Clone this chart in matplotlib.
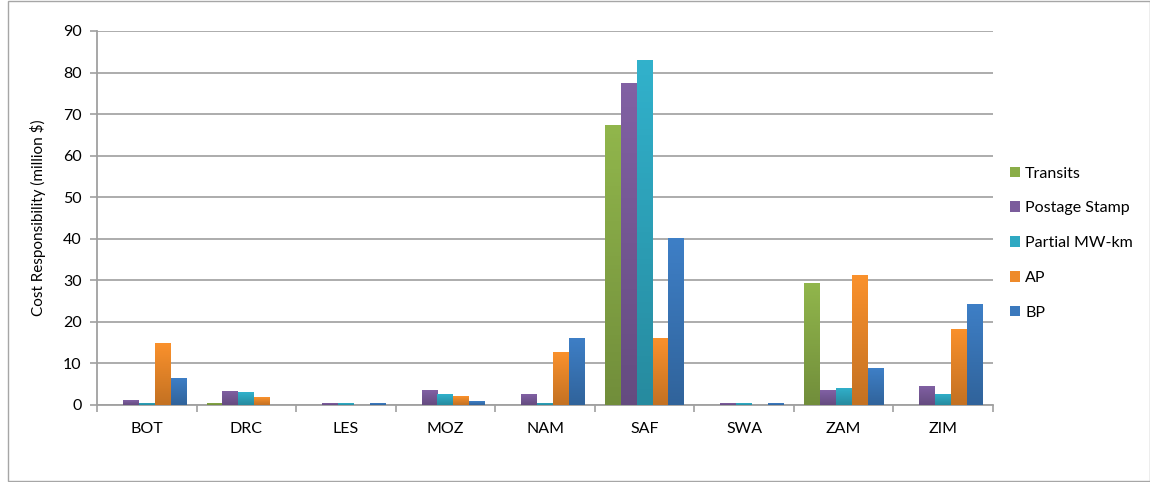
import matplotlib
matplotlib.use("Agg")
import matplotlib.pyplot as plt
from matplotlib.patches import Rectangle
from matplotlib.colors import to_rgb, LinearSegmentedColormap
import numpy as np

plt.rcParams['font.family'] = ['Lato', 'DejaVu Sans']

countries = ["BOT", "DRC", "LES", "MOZ", "NAM", "SAF", "SWA", "ZAM", "ZIM"]
series_names = ["Transits", "Postage Stamp", "Partial MW-km", "AP", "BP"]

transits = [0, 0.5, 0, 0, 0, 67.3, 0, 29.3, 0]
postage_stamp = [1.2, 3.4, 0.4, 3.6, 2.6, 77.5, 0.4, 3.6, 4.6]
partial_mw_km = [0.5, 3.1, 0.4, 2.6, 0.6, 83.1, 0.4, 4.1, 2.7]
ap = [14.8, 1.9, 0, 2.1, 12.7, 16.2, 0, 31.2, 18.4]
bp = [6.6, 0, 0.4, 0.9, 16.2, 40.2, 0.4, 8.8, 24.4]

colors = ["#8aad48", "#7b5c9c", "#2fa9c2", "#ee8a2a", "#3b79bd"]
all_series = [transits, postage_stamp, partial_mw_km, ap, bp]

fig = plt.figure(figsize=(11.5, 4.82), dpi=100)
ax = fig.add_axes([97 / 1150, 1 - 405 / 482, (993 - 97) / 1150, (405 - 31) / 482])

# outer frame
fig.patches.append(Rectangle((8 / 1150, 0.002), 1 - 8 / 1150, 0.996, transform=fig.transFigure,
                             fill=False, edgecolor="#a6a6a6", linewidth=1.0))

x = np.arange(len(countries))
width = 0.16
grad = np.linspace(1, 0, 64).reshape(-1, 1)
for i, (name, vals) in enumerate(zip(series_names, all_series)):
    c = np.array(to_rgb(colors[i]))
    cmap = LinearSegmentedColormap.from_list("g%d" % i, [c * 0.82, np.minimum(c * 1.05, 1)])
    bars = ax.bar(x + (i - 2) * width, vals, width, color=colors[i], label=name, zorder=3)
    # excel-like vertical gradient
    for b in bars:
        h = b.get_height()
        if h <= 0:
            continue
        x0 = b.get_x()
        im = ax.imshow(grad, cmap=cmap, aspect="auto", zorder=4,
                       extent=(x0, x0 + b.get_width(), 0, h), origin="upper")
        im.set_clip_path(b)

ax.set_xlim(-0.5, len(countries) - 0.5)
ax.set_ylim(0, 90)
ax.set_yticks(range(0, 91, 10))
ax.set_xticks(x)
ax.set_xticklabels(countries)
ax.set_xticks(np.arange(-0.5, len(countries), 1), minor=True)
ax.tick_params(axis="x", which="major", length=0, pad=12, labelsize=11.5)
ax.tick_params(axis="x", which="minor", length=5, color="#a0a0a0", width=1.2)
ax.tick_params(axis="y", length=5, color="#a0a0a0", width=1.2, labelsize=11.5, pad=6)
ax.grid(axis="y", color="#a6a6a6", linewidth=1.3, zorder=0)
for s in ["top", "right"]:
    ax.spines[s].set_visible(False)
for s in ["left", "bottom"]:
    ax.spines[s].set_color("#a0a0a0")
    ax.spines[s].set_linewidth(1.3)
ax.set_ylabel("Cost Responsibility (million $)", fontsize=11, labelpad=12)

ax.legend(loc="center left", bbox_to_anchor=(1.003, 0.433), frameon=False, fontsize=11.5,
          handlelength=0.65, handleheight=0.65, handletextpad=0.3, labelspacing=1.3)

fig.savefig("out.png", dpi=100)
